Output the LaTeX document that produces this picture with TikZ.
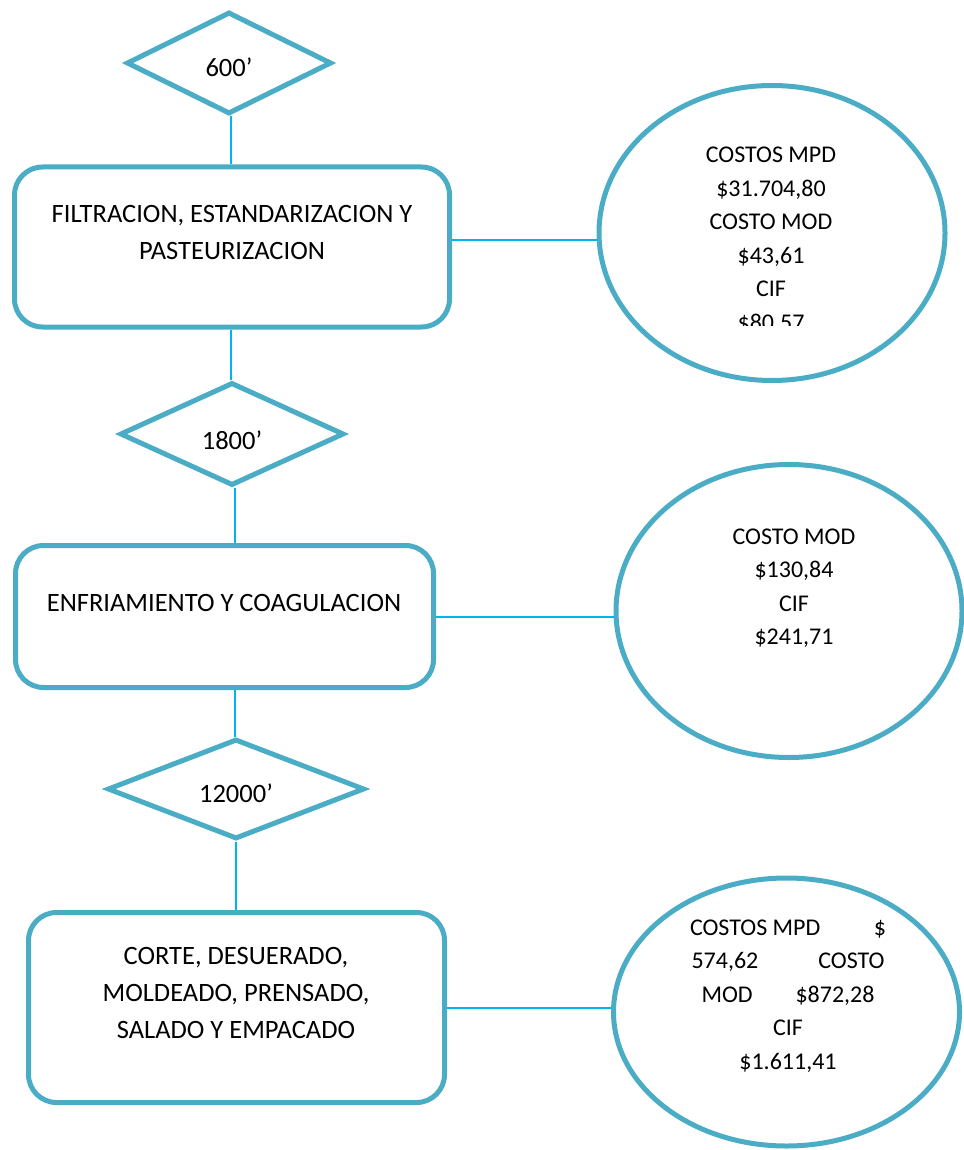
\documentclass[tikz,border=0pt]{standalone}
\usepackage{fontspec}
\setmainfont{Carlito}
\usepackage{xcolor}
\usetikzlibrary{calc, positioning, shapes.geometric}
\definecolor{outline}{HTML}{4BACC6}
\definecolor{wire}{HTML}{00B4F0}
\def\textSize{26.5}
\def\costSize{24}
\tikzset{
    procbox/.style={draw=outline, line width=5pt, rounded corners=28pt, fill=white},
    timebox/.style={draw=outline, line width=5pt, diamond, inner sep=0pt, fill=white},
    costbox/.style={draw=outline, line width=5pt, ellipse, inner sep=0pt, fill=white},
    txt/.style={font=\fontsize{\textSize}{37}\selectfont, align=center, inner sep=0pt},
    costtxt/.style={font=\fontsize{\costSize}{33.5}\selectfont, align=center, inner sep=0pt},
    wireline/.style={draw=wire, line width=2pt}
}

\begin{document}
\begin{tikzpicture}[x=1pt, y=-1pt]
            \useasboundingbox (0,0) rectangle (963,1150);

            % Process boxes
            \node[procbox, minimum width=435pt, minimum height=160pt] (filtr) at (232,247) {};
            \node[procbox, minimum width=418pt, minimum height=142pt] (enfri) at (224.5,616.5) {};
            \node[procbox, minimum width=416pt, minimum height=190pt] (corte) at (236.5,1007.5) {};

            % Time diamonds
            \node[timebox, minimum width=205pt, minimum height=102pt] (t600) at (229,63) {};
            \node[timebox, minimum width=224pt, minimum height=103pt] (t1800) at (232,434) {};
            \node[timebox, minimum width=257pt, minimum height=100pt] (t12000) at (236,789) {};

            % Cost ellipses
            \node[costbox, minimum width=346pt, minimum height=295pt] (cost1) at (772,233) {};
            \node[costbox, minimum width=346pt, minimum height=293pt] (cost2) at (789,611) {};
            \node[costbox, minimum width=346pt, minimum height=268pt] (cost3) at (786.5,1012) {};

            % Connectors
            \draw[wireline] ($(t600.south)+(2,0)$) -- ($(t600.south |- filtr.north)+(2,0)$);
            \draw[wireline] ($(t1800.north)+(-1,0)$) -- ($(t1800.north |- filtr.south)+(-1,0)$);
            \draw[wireline] ($(t1800.south)+(3,0)$) -- ($(t1800.south |- enfri.north)+(3,0)$);
            \draw[wireline] ($(t12000.north)+(-1,0)$) -- ($(t12000.north |- enfri.south)+(-1,0)$);
            \draw[wireline] (t12000.south) -- (t12000.south |- corte.north);
            \draw[wireline] ($(filtr.east)+(0,-7)$) -- ($(filtr.east -| cost1.west)+(0,-7)$);
            \draw[wireline] (enfri.east) -- (enfri.east -| cost2.west);
            \draw[wireline] (corte.east) -- (corte.east -| cost3.west);

            % Labels
            \node[txt] (t600T) at (229,67) {600’};
            \node[txt] (t1800T) at (232,440) {1800’};
            \node[txt] (t12000T) at (236,793) {12000’};
            \node[txt] (filtrT) at (232,232) {FILTRACION, ESTANDARIZACION Y\\PASTEURIZACION};
            \node[txt] (enfriT) at (224,603) {ENFRIAMIENTO Y COAGULACION};
            \node[txt] (corteT) at (236,993) {CORTE, DESUERADO,\\MOLDEADO, PRENSADO,\\SALADO Y EMPACADO};

            \begin{scope}
                \clip (600,90) rectangle (945,325);
                \node[costtxt] (cost1T) at (771,240) {COSTOS MPD\\\$31.704,80\\COSTO MOD\\\$43,61\\CIF\\\$80,57};
            \end{scope}
            \node[costtxt] (cost2T) at (794,588) {COSTO MOD\\\$130,84\\CIF\\\$241,71};
            \node[costtxt] (cost3T) at (788,996) {\makebox[196pt][s]{COSTOS MPD\hfill\$}\\
                \makebox[193pt][s]{574,62\hfill COSTO}\\
                \makebox[173pt][s]{MOD\hfill\$872,28}\\CIF\\\$1.611,41};

        \end{tikzpicture}
\end{document}
